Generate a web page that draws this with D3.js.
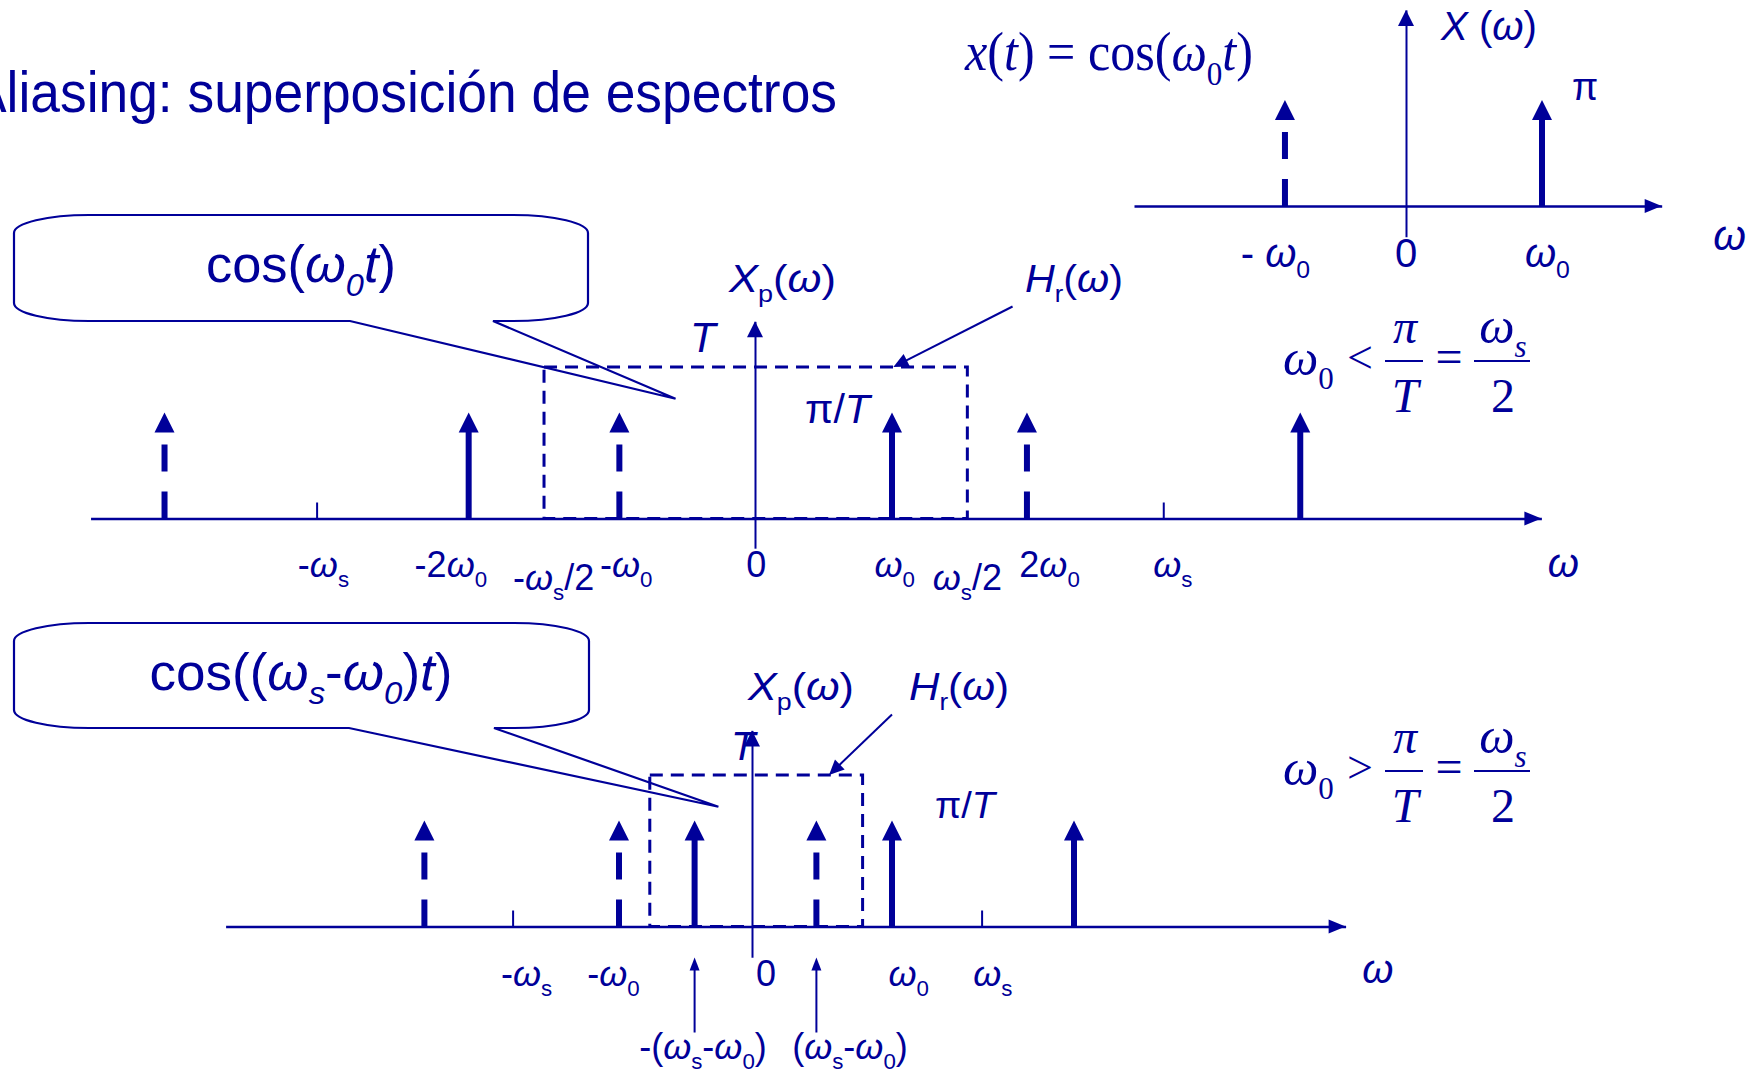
<!DOCTYPE html>
<html><head><meta charset="utf-8">
<script src="https://cdn.jsdelivr.net/npm/d3@7"></script>
<style>html,body{margin:0;padding:0;background:#fff;overflow:hidden}</style>
</head><body>
<svg id="chart" width="1764" height="1074" style="background:#fff"></svg>
<script>
// ================= DATA =================
const titleText = "Aliasing: superposición de espectros";

// Top-right spectrum X(ω) of x(t)=cos(ω0 t); positions in ω0 units, amplitude in π units
const topFormula = "^x^(^t^) = cos(^ω^_0^t^)";
const topImpulsePos   = [-0.89, 1.0];
const topImpulseAmp   = [1, 1];
const topImpulseAlias = [true, false];
const topTickPos = [];
const topLabelText = ["- ^ω^_0", "0", "^ω^_0"];
const topLabelPos  = [-0.96, 0.0, 1.04];
const topAxisW = [-2.0, 1.88];
const topAxisV = [-0.29, 1.85];

// Middle spectrum Xp(ω), case ω0 < ωs/2
const midImpulsePos   = [-4.31, -2.09, -0.99, 1.0, 1.985, 3.98];
const midImpulseAmp   = [1, 1, 1, 1, 1, 1];
const midImpulseAlias = [true, false, true, false, true, false];
const midTickPos = [-3.2, 2.98];
const midLabelText = ["-^ω^_s", "-2^ω^_0", "-^ω^_s/2", "-^ω^_0", "0", "^ω^_0", "^ω^_s/2", "2^ω^_0", "^ω^_s"];
const midLabelPos  = [-3.15, -2.22, -1.47, -0.94, 0.01, 1.02, 1.55, 2.15, 3.05];
const midFilter = [-1.54, 1.55];     // Hr(ω) band edges
const midFilterGain = 1.43;          // level T
const midAxisW = [-4.85, 5.74];
const midAxisV = [-0.28, 1.86];

// Bottom spectrum Xp(ω), case ω0 > ωs/2
const botImpulsePos   = [-2.34, -0.95, -0.41, 0.46, 1.0, 2.3];
const botImpulseAmp   = [1, 1, 1, 1, 1, 1];
const botImpulseAlias = [true, true, false, true, false, false];
const botTickPos = [-1.71, 1.64];
const botLabelText = ["-^ω^_s", "-^ω^_0", "0", "^ω^_0", "^ω^_s"];
const botLabelPos  = [-1.61, -0.99, 0.1, 1.12, 1.72];
const botAliasText = ["-(^ω^_s-^ω^_0)", "(^ω^_s-^ω^_0)"];
const botAliasPos  = [-0.41, 0.46];
const botAliasLabelPos = [-0.35, 0.70];
const botFilter = [-0.73, 0.79];
const botFilterGain = 1.43;
const botAxisW = [-3.76, 4.24];
const botAxisV = [-0.29, 1.85];

const calloutTexts = ["cos(^ω_0t^)", "cos((^ω_s^-^ω_0^)^t^)"];

// ================= RENDER =================
const BLUE = "#000099";
const SANS = "'Liberation Sans', Arial, sans-serif";
const SERIF = "'Liberation Serif', 'Times New Roman', serif";
const svg = d3.select("#chart");

function rich(text, str, fs) {
  const segs = [];
  let it = false, k = 0, buf = "";
  const flush = () => { if (buf) { segs.push({t: buf, it, sub: false}); buf = ""; } };
  while (k < str.length) {
    const c = str[k];
    if (c === "^") { flush(); it = !it; k++; }
    else if (c === "_") { flush(); segs.push({t: str[k + 1], it, sub: true}); k += 2; }
    else { buf += c; k++; }
  }
  flush();
  let shifted = false;
  segs.forEach(s => {
    const ts = text.append("tspan").text(s.t).attr("font-style", s.it ? "italic" : "normal");
    if (s.sub) {
      ts.attr("font-size", fs * 0.62);
      if (!shifted) ts.attr("dy", fs * 0.27);
      shifted = true;
    } else if (shifted) { ts.attr("dy", -fs * 0.27); shifted = false; }
  });
}
function label(g, str, x, y, o = {}) {
  const fs = o.size || 36;
  const t = g.append("text").attr("x", x).attr("y", y)
    .attr("font-family", o.family || SANS).attr("font-size", fs)
    .attr("fill", BLUE).attr("text-anchor", o.anchor || "middle");
  if (o.len) t.attr("textLength", o.len).attr("lengthAdjust", "spacingAndGlyphs");
  rich(t, str, fs);
  return t;
}
function arrowLine(g, x1, y1, x2, y2, hl, hw, sw) {
  const a = Math.atan2(y2 - y1, x2 - x1);
  const bx = x2 - hl * Math.cos(a), by = y2 - hl * Math.sin(a);
  g.append("line").attr("x1", x1).attr("y1", y1).attr("x2", bx + 2 * Math.cos(a)).attr("y2", by + 2 * Math.sin(a))
    .attr("stroke", BLUE).attr("stroke-width", sw);
  const px = -Math.sin(a) * hw, py = Math.cos(a) * hw;
  g.append("path").attr("d", `M${x2},${y2}L${bx + px},${by + py}L${bx - px},${by - py}Z`).attr("fill", BLUE);
}

function makeScales(L) {
  return {
    x: d3.scaleLinear().domain([0, 1]).range([L.ox, L.ox + L.ux]),
    y: d3.scaleLinear().domain([0, 1]).range([L.base, L.base - L.uy])
  };
}

function drawSpectrum(L, d) {
  const g = svg.append("g");
  const {x, y} = makeScales(L);
  if (d.filter) {
    g.append("rect").attr("x", x(d.filter[0])).attr("y", y(d.gain))
      .attr("width", x(d.filter[1]) - x(d.filter[0])).attr("height", y(0) - y(d.gain))
      .attr("fill", "none").attr("stroke", BLUE).attr("stroke-width", 3).attr("stroke-dasharray", "13,8");
  }
  const xa = d3.scaleLinear().domain(d.axisW).range(d.axisW.map(x));
  const ag = g.append("g").attr("transform", `translate(0,${y(0)})`)
    .call(d3.axisTop(xa).tickValues(d.ticks).tickSizeInner(16).tickSizeOuter(0).tickFormat(""));
  ag.select(".domain").attr("stroke", BLUE).attr("stroke-width", 2.3);
  ag.selectAll(".tick line").attr("stroke", BLUE).attr("stroke-width", 2);
  const xe = x(d.axisW[1]);
  g.append("path").attr("d", `M${xe},${y(0)}L${xe - 17},${y(0) - 7}L${xe - 17},${y(0) + 7}Z`).attr("fill", BLUE);
  const ya = d3.scaleLinear().domain(d.axisV).range(d.axisV.map(y));
  const vg = g.append("g").attr("transform", `translate(${x(0)},0)`)
    .call(d3.axisLeft(ya).tickValues([]).tickSizeOuter(0));
  vg.select(".domain").attr("stroke", BLUE).attr("stroke-width", 2);
  const yt = y(d.axisV[1]);
  g.append("path").attr("d", `M${x(0)},${yt}L${x(0) + 8},${yt + 16}L${x(0) - 8},${yt + 16}Z`).attr("fill", BLUE);
  const imp = d.pos.map((p, i) => ({p, a: d.amp[i], alias: d.alias[i]}));
  g.selectAll(".stem").data(imp).join("line").attr("class", "stem")
    .attr("x1", v => x(v.p)).attr("x2", v => x(v.p))
    .attr("y1", y(0)).attr("y2", v => y(v.a) + (v.alias ? 20 : 18))
    .attr("stroke", BLUE).attr("stroke-width", 6)
    .attr("stroke-dasharray", v => v.alias ? "27,20" : null);
  g.selectAll(".head").data(imp).join("path").attr("class", "head")
    .attr("d", v => `M${x(v.p)},${y(v.a)}L${x(v.p) + 10},${y(v.a) + 20}L${x(v.p) - 10},${y(v.a) + 20}Z`)
    .attr("fill", BLUE);
  d.labels.forEach((s, i) => {
    const low = s.includes("/2") ? 13 : 0;
    label(g, s, x(d.labelPos[i]), y(0) + d.labelDy + low, {size: d.labelSize});
  });
  return {g, x, y};
}

function callout(box, tip, text, tx, ty, len) {
  const {x0, x1, y0, y1, p1, p2} = box;
  const rx = 75, ry = 18;
  const path = `M${tip[0]},${tip[1]}L${p1},${y1}L${x0 + rx},${y1}A${rx},${ry} 0 0 1 ${x0},${y1 - ry}` +
    `L${x0},${y0 + ry}A${rx},${ry} 0 0 1 ${x0 + rx},${y0}L${x1 - rx},${y0}A${rx},${ry} 0 0 1 ${x1},${y0 + ry}` +
    `L${x1},${y1 - ry}A${rx},${ry} 0 0 1 ${x1 - rx},${y1}L${p2},${y1}Z`;
  svg.append("path").attr("d", path).attr("fill", "none").attr("stroke", BLUE).attr("stroke-width", 2.2)
    .attr("stroke-linejoin", "miter");
  label(svg, text, tx, ty, {size: 52, len});
}

// Title (its first letter runs off the left edge, as in the original slide)
label(svg, titleText, -29, 112, {size: 57, anchor: "start", len: 866});

// ---- Top chart ----
const LT = {ox: 1406, ux: 136, base: 206, uy: 106};
const T = drawSpectrum(LT, {pos: topImpulsePos, amp: topImpulseAmp, alias: topImpulseAlias, ticks: topTickPos,
  axisW: topAxisW, axisV: topAxisV, labels: topLabelText, labelPos: topLabelPos, labelDy: 61, labelSize: 40});
label(svg, topFormula, 965, 70, {size: 54, family: SERIF, anchor: "start", len: 288});
label(svg, "^X^ (^ω^)", 1441, 40, {size: 40, anchor: "start", len: 96});
label(svg, "π", 1585, 100, {size: 38});
label(svg, "^ω^", T.x(2.38), 250, {size: 42});

// ---- Middle chart ----
const LM = {ox: 755, ux: 137, base: 518.5, uy: 106};
const M = drawSpectrum(LM, {pos: midImpulsePos, amp: midImpulseAmp, alias: midImpulseAlias, ticks: midTickPos,
  filter: midFilter, gain: midFilterGain, axisW: midAxisW, axisV: midAxisV,
  labels: midLabelText, labelPos: midLabelPos, labelDy: 58.5, labelSize: 36});
label(svg, "^ω^", M.x(5.9), 577, {size: 40});
label(svg, "^X^_p(^ω^)", 729, 292, {size: 38, anchor: "start", len: 107});
label(svg, "^H^_r(^ω^)", 1025, 292, {size: 38, anchor: "start", len: 98});
label(svg, "^T^", 690, 352, {size: 42, anchor: "start"});
label(svg, "π/^T^", 805, 423, {size: 41, anchor: "start", len: 65});
arrowLine(svg, M.x(1.88), M.y(2.0), M.x(1.01), M.y(midFilterGain), 15, 7, 2);
callout({x0: 14, x1: 588, y0: 215, y1: 321, p1: 350, p2: 493}, [M.x(-0.58), M.y(1.13)],
  calloutTexts[0], 301, 282, 190);

// ---- Bottom chart ----
const LB = {ox: 752, ux: 140, base: 926.5, uy: 106};
const B = drawSpectrum(LB, {pos: botImpulsePos, amp: botImpulseAmp, alias: botImpulseAlias, ticks: botTickPos,
  filter: botFilter, gain: botFilterGain, axisW: botAxisW, axisV: botAxisV,
  labels: botLabelText, labelPos: botLabelPos, labelDy: 59.5, labelSize: 36});
label(svg, "^ω^", B.x(4.47), 983, {size: 40});
label(svg, "^X^_p(^ω^)", 748, 700, {size: 38, anchor: "start", len: 106});
label(svg, "^H^_r(^ω^)", 909, 700, {size: 38, anchor: "start", len: 100});
label(svg, "^T^", 731, 760, {size: 40, anchor: "start"});
label(svg, "π/^T^", 935, 818, {size: 37, anchor: "start", len: 60});
arrowLine(svg, B.x(1.0), B.y(2.0), B.x(0.55), B.y(botFilterGain), 15, 7, 2);
botAliasPos.forEach((p, i) => {
  arrowLine(svg, B.x(p), B.y(0) + 106, B.x(p), B.y(0) + 31, 13, 5, 2);
  label(svg, botAliasText[i], B.x(botAliasLabelPos[i]), 1059, {size: 36});
});
callout({x0: 14, x1: 589, y0: 623, y1: 728, p1: 349, p2: 494}, [B.x(-0.24), B.y(1.13)],
  calloutTexts[1], 301, 690, 303);

// ---- Conditions ----
function condition(dy, rel) {
  const g = svg.append("g").attr("transform", `translate(0,${dy})`);
  label(g, "^ω^_0", 1283, 375, {size: 50, family: SERIF, anchor: "start"});
  label(g, rel, 1360, 373, {size: 46, family: SERIF});
  g.append("line").attr("x1", 1385).attr("x2", 1423).attr("y1", 361).attr("y2", 361).attr("stroke", BLUE).attr("stroke-width", 2);
  label(g, "^π^", 1405, 343, {size: 48, family: SERIF});
  label(g, "^T^", 1405, 412, {size: 48, family: SERIF});
  label(g, "=", 1449, 373, {size: 48, family: SERIF});
  g.append("line").attr("x1", 1474).attr("x2", 1530).attr("y1", 361).attr("y2", 361).attr("stroke", BLUE).attr("stroke-width", 2);
  label(g, "^ω_s^", 1503, 343, {size: 50, family: SERIF});
  label(g, "2", 1503, 412, {size: 48, family: SERIF});
}
condition(0, "<");
condition(410, ">");
</script>
</body></html>
